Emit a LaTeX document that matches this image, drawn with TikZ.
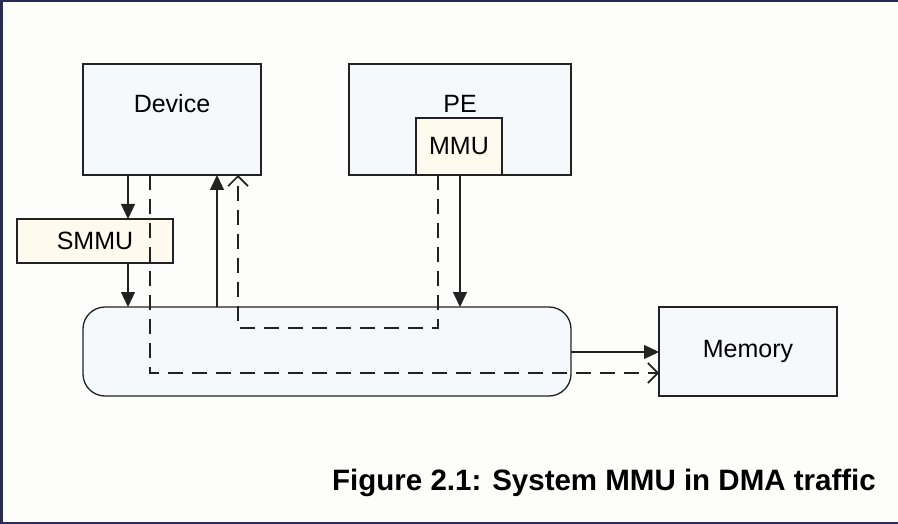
\documentclass[tikz,border=0pt]{standalone}
\usepackage{fontspec}
\setmainfont{Liberation Sans}
\usetikzlibrary{arrows.meta}
\definecolor{bgc}{HTML}{FDFDFC}
\definecolor{framec}{HTML}{272B56}
\definecolor{boxblue}{HTML}{F5F9FC}
\definecolor{boxcream}{HTML}{FFFAEE}
\definecolor{linec}{HTML}{222222}
\tikzset{
  box/.style={draw=linec, line width=1.3pt, fill=boxblue, inner sep=0pt, outer sep=0pt,
    font=\fontsize{25}{28}\selectfont},
  cream/.style={box, fill=boxcream},
  lab/.style={font=\fontsize{25}{28}\selectfont, inner sep=0pt},
  solidarr/.style={draw=linec, line width=1.3pt, -{Triangle[length=15pt,width=14pt]}},
  dasharr/.style={draw=linec, line width=2pt, dash pattern=on 15pt off 9pt,
    -{Straight Barb[length=10pt,width=20pt,line width=1.6pt]}},
}
\begin{document}
\begin{tikzpicture}[x=1pt,y=-1pt]
\useasboundingbox (0,0) rectangle (898,524);
\fill[bgc] (0,0) rectangle (898,524);
% screenshot frame
\fill[framec] (0,0) rectangle (898,2.5);
\fill[framec] (0,0) rectangle (3,524);
\fill[framec] (0,521.5) rectangle (898,524);

% boxes
\node[box, minimum width=178pt, minimum height=111pt,
  label={[lab, yshift=15.5pt]center:Device}] (dev) at (172,119.5) {};
\node[box, minimum width=222pt, minimum height=111pt,
  label={[lab, yshift=15.5pt]center:PE}] (pe) at (460,119.5) {};
\node[cream, minimum width=86pt, minimum height=57pt] (mmu) at (459,146.5) {MMU};
\node[cream, minimum width=156pt, minimum height=44pt] (smmu) at (95,241) {SMMU};
\node[box, rounded corners=22pt, minimum width=488pt, minimum height=89pt] (bus) at (327,351.5) {};
\node[box, minimum width=178pt, minimum height=89pt] (mem) at (748,351.5) {Memory};

% guide coordinates
\coordinate (xA) at (128,0);
\coordinate (xB) at (150,0);
\coordinate (xC) at (217,0);
\coordinate (xD) at (238,0);
\coordinate (xE) at (438,0);
\coordinate (xF) at (460,0);
\coordinate (yG) at (0,328);
\coordinate (yH) at (0,373);
\coordinate (yI) at (0,352);

% connectors
\draw[solidarr] (dev.south -| xA) -- (smmu.north -| xA);
\draw[solidarr] (smmu.south -| xA) -- (bus.north -| xA);
\draw[dasharr] (dev.south -| xB) -- (xB |- yH) -- (mem.west |- yH);
\draw[solidarr] (bus.north -| xC) -- (dev.south -| xC);
\draw[dasharr] (mmu.south -| xE) -- (xE |- yG) -- (xD |- yG) -- (dev.south -| xD);
\draw[solidarr] (mmu.south -| xF) -- (bus.north -| xF);
\draw[solidarr] (bus.east |- yI) -- (mem.west |- yI);

% caption
\node[font=\bfseries\fontsize{29.5}{34}\selectfont, anchor=base, inner sep=0pt] (cap)
  at (604,490) {Figure 2.1: System MMU in DMA traffic};
\end{tikzpicture}
\end{document}
